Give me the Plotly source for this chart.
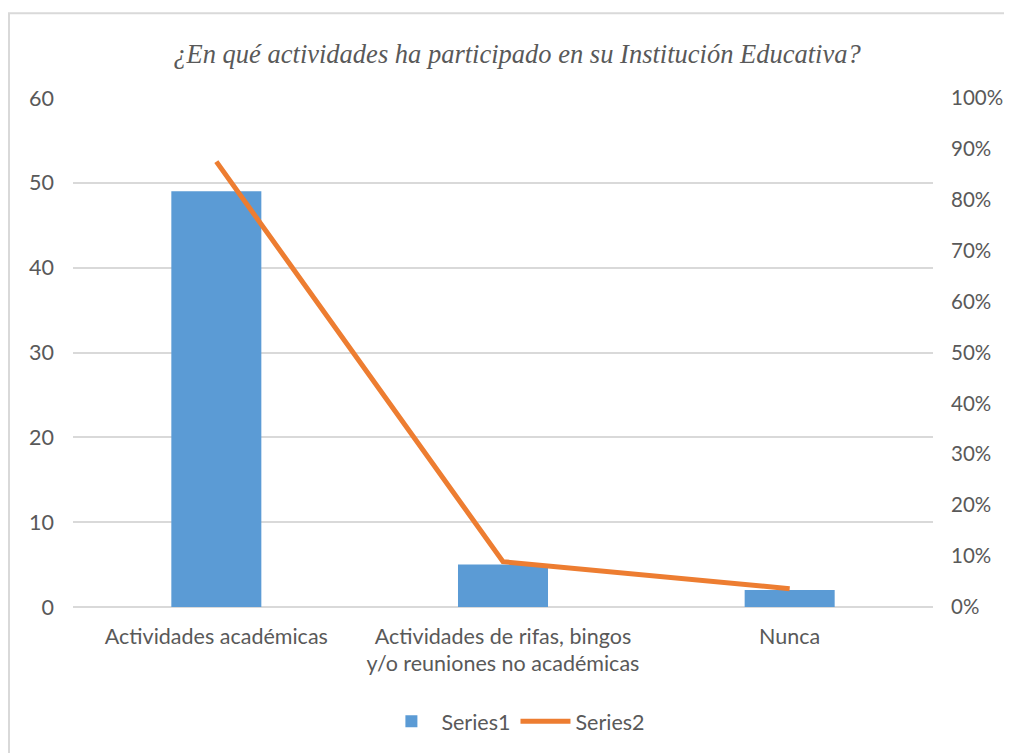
import plotly.graph_objects as go

# data
categories = ["Actividades académicas",
              "Actividades de rifas, bingos<br>y/o reuniones no académicas",
              "Nunca"]
series1 = [49, 5, 2]
series2 = [0.875, 0.089, 0.036]

title_text = "¿En qué actividades ha participado en su Institución Educativa?"
left_ticks = [0, 10, 20, 30, 40, 50, 60]
right_ticks = [0, 0.1, 0.2, 0.3, 0.4, 0.5, 0.6, 0.7, 0.8, 0.9, 1.0]

grey = "#595959"
tick_font = dict(family="Lato, Open Sans, sans-serif", size=21.5, color=grey)
right_font = dict(family="Lato, Open Sans, sans-serif", size=20.5, color=grey)

fig = go.Figure()

fig.add_trace(go.Bar(x=categories, y=series1, name="Series1",
                     marker=dict(color="#5b9bd5", line=dict(width=0))))

fig.add_trace(go.Scatter(x=categories, y=series2, name="Series2", yaxis="y2",
                         mode="lines", line=dict(color="#ed7d31", width=5)))

# page has an 8px body margin; shrink the figure so it fits without scrollbars
fig.update_layout(
    width=1004, height=745,
    margin=dict(l=65, r=79, t=90, b=145),
    paper_bgcolor="white",
    plot_bgcolor="white",
    bargap=0.686,
    title=dict(text=title_text, x=0.507, xanchor="center", y=0.938, yanchor="middle",
               font=dict(family="Liberation Serif, Times New Roman, serif",
                         size=26.5, color=grey, style="italic")),
    xaxis=dict(showgrid=False, showline=False, ticks="", tickfont=tick_font,
               ticklabelstandoff=14, automargin=False),
    yaxis=dict(range=[0, 60], tickvals=left_ticks, showgrid=True, gridcolor="#d9d9d9",
               gridwidth=1.5, zeroline=True, zerolinecolor="#d9d9d9", zerolinewidth=2,
               showline=False, ticks="", tickfont=tick_font, ticklabelstandoff=18,
               automargin=False),
    yaxis2=dict(range=[0, 1], tickvals=right_ticks, tickformat=".0%", overlaying="y",
                side="right", showgrid=False, zeroline=False, showline=False, ticks="",
                tickfont=right_font, ticklabelstandoff=17, automargin=False),
    legend=dict(orientation="h", x=0.515, xanchor="center", y=-0.222, yanchor="middle",
                font=tick_font, itemwidth=50, traceorder="normal"),
    showlegend=True,
)

# chart border
fig.add_shape(type="rect", xref="paper", yref="paper",
              x0=-64 / 860, x1=1.2, y0=-0.4, y1=1 + 85 / 510,
              line=dict(color="#d9d9d9", width=2), layer="below")

fig.write_html("out.html")
